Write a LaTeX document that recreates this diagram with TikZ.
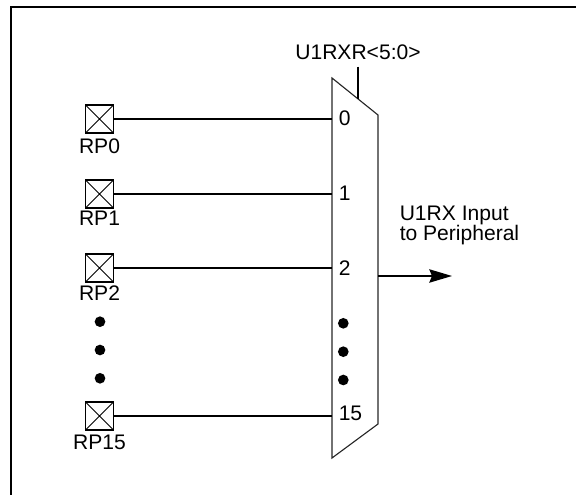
\documentclass[tikz,border=0pt]{standalone}
\usepackage{fontspec}
\setmainfont{Liberation Sans}
\usetikzlibrary{arrows.meta}
\begin{document}
\begin{tikzpicture}[x=0.75pt,y=-0.75pt,
  pad/.style={draw,line width=1.3pt,minimum size=21pt,inner sep=0pt,
    path picture={\draw[line width=0.55pt] (path picture bounding box.north west) -- (path picture bounding box.south east)
      (path picture bounding box.south west) -- (path picture bounding box.north east);}},
  txt/.style={inner sep=0pt,anchor=base,font=\fontsize{15.8pt}{15.5pt}\selectfont},
  wire/.style={line width=1.25pt},
  muxline/.style={line width=0.85pt,draw=black!85},
  dotc/.style={circle,fill=black,minimum size=8pt,inner sep=0pt},
  frame/.style={line width=1.5pt}]
\useasboundingbox (0,0) rectangle (576,495);
% frame
\coordinate (f1) at (11,496);
\coordinate (f2) at (11,7);
\coordinate (f3) at (577,7);
\draw[frame] (f1) -- (f2) -- (f3);
% mux
\coordinate (mtl) at (332,78);
\coordinate (mtr) at (378,115);
\coordinate (mbr) at (378,424);
\coordinate (mbl) at (332,458);
\draw[muxline] (mtl) -- (mtr) -- (mbr) -- (mbl) -- cycle;
% control
\coordinate (ctop) at (358.3,66.7);
\coordinate (cbot) at (358.3,99.2);
\draw[wire] (ctop) -- (cbot);
\node[txt] (sel) at (358,59.3) {U1RXR<5:0>};
% pads
\node[pad] (p0) at (99.5,119) {};
\node[pad] (p1) at (99.5,194) {};
\node[pad] (p2) at (99.5,268) {};
\node[pad] (p15) at (99.5,416) {};
\node[txt] (l0) at (99.5,153.4) {RP0};
\node[txt] (l1) at (99.5,225.4) {RP1};
\node[txt] (l2) at (99.5,300.4) {RP2};
\node[txt] (l15) at (99.5,450) {RP15};
% mux inputs
\coordinate (m0) at (332,119);
\coordinate (m1) at (332,194);
\coordinate (m2) at (332,268);
\coordinate (m15) at (332,416);
\draw[wire] (p0.east) -- (m0);
\draw[wire] (p1.east) -- (m1);
\draw[wire] (p2.east) -- (m2);
\draw[wire] (p15.east) -- (m15);
\node[txt,anchor=base west] (n0) at (338.5,126) {0};
\node[txt,anchor=base west] (n1) at (338.5,201) {1};
\node[txt,anchor=base west] (n2) at (338.5,275.4) {2};
\node[txt,anchor=base west] (n15) at (338.5,420.5) {15};
% dots
\node[dotc] (da1) at (100,321.7) {};
\node[dotc] (da2) at (100,350) {};
\node[dotc] (da3) at (100,378.3) {};
\node[dotc] (db1) at (343.3,323.3) {};
\node[dotc] (db2) at (343.3,351.7) {};
\node[dotc] (db3) at (343.3,380) {};
% output
\coordinate (mout) at (378,276);
\coordinate (otip) at (452,276);
\draw[line width=1.3pt,-{Stealth[length=17pt,width=10pt,inset=2pt]}] (mout) -- (otip);
\node[txt,anchor=base west,align=left] (outl) at (399.5,240.7) {U1RX Input\\to Peripheral};
\end{tikzpicture}
\end{document}
